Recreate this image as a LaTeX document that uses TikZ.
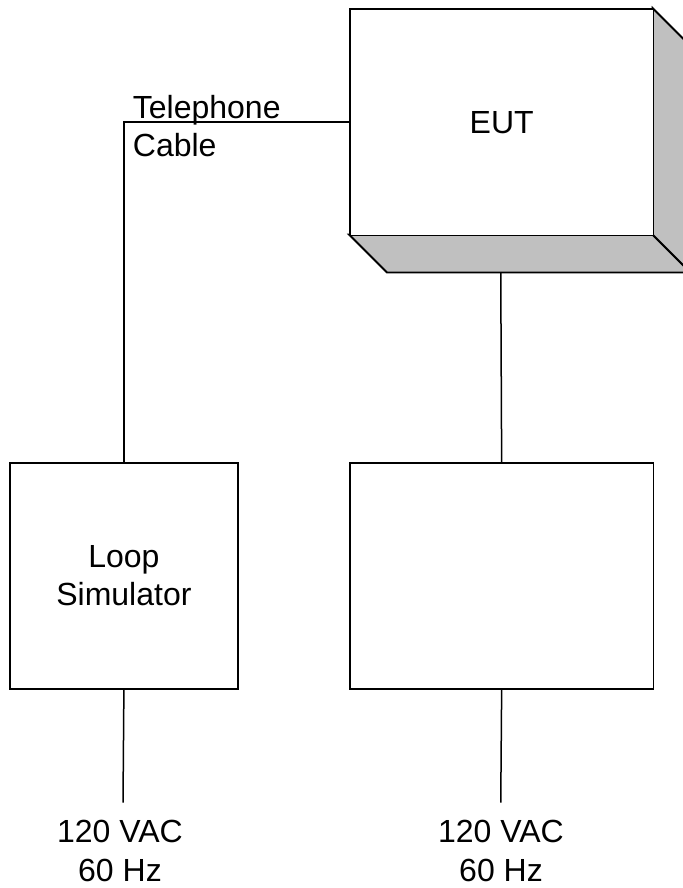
\documentclass[tikz,border=0pt]{standalone}
\usepackage{fontspec}
\setmainfont{Liberation Sans}
\definecolor{bevel}{HTML}{C0C0C0}
\begin{document}
\begin{tikzpicture}[x=1bp,y=-1bp,
  txt/.style={font=\fontsize{32bp}{38bp}\selectfont},
  box/.style={draw, line width=1.8bp, inner sep=0pt, txt, align=center},
  wire/.style={line width=1.5bp},
  face/.style={fill=bevel, draw, line width=1.8bp, line join=miter},
  power/.style={anchor=north, inner sep=0pt, align=center, font=\fontsize{32bp}{39bp}\selectfont}]
\useasboundingbox (0,0) rectangle (683,888);
\begin{scope}
\clip (0,0) rectangle (683,888);
% EUT 3D box faces
\coordinate (ftl) at (349,8);
\coordinate (ftr) at (652.5,8);
\coordinate (fbr) at (652.5,234.5);
\coordinate (fbl) at (349,234.5);
\coordinate (btr) at (690.5,46);
\coordinate (bbr) at (690.5,272.5);
\coordinate (bbl) at (387,272.5);
\draw[face] (fbl) -- (fbr) -- (bbr) -- (bbl) -- cycle;
\draw[face] (ftr) -- (btr) -- (bbr) -- (fbr) -- cycle;
\node[box, fill=white, minimum width=303.5bp, minimum height=226.5bp, anchor=north west] (eut) at (349,8) {EUT};
\end{scope}
% lower boxes
\node[box, minimum width=228bp, minimum height=226bp, anchor=north west] (loop) at (9,462) {Loop\\Simulator};
\node[box, minimum width=303.5bp, minimum height=226bp, anchor=north west] (psu) at (349,462) {};
% connectors
\coordinate (eutbot) at (500.75,272.5);
\coordinate (p1) at (123,802.7);
\coordinate (p2) at (500.75,802.7);
\draw[wire] (eut.west) -| (loop.north);
\draw[wire] (eutbot) -- (psu.north);
\draw[wire] (loop.south) -- (p1);
\draw[wire] (psu.south) -- (p2);
% labels
\node[txt, anchor=north west, inner sep=0pt, align=left] (tel) at (132.7,95.5) {Telephone\\Cable};
\node[power] (ac1) at (120,820) {120 VAC\\60 Hz};
\node[power] (ac2) at (501,820) {120 VAC\\60 Hz};
\end{tikzpicture}
\end{document}
